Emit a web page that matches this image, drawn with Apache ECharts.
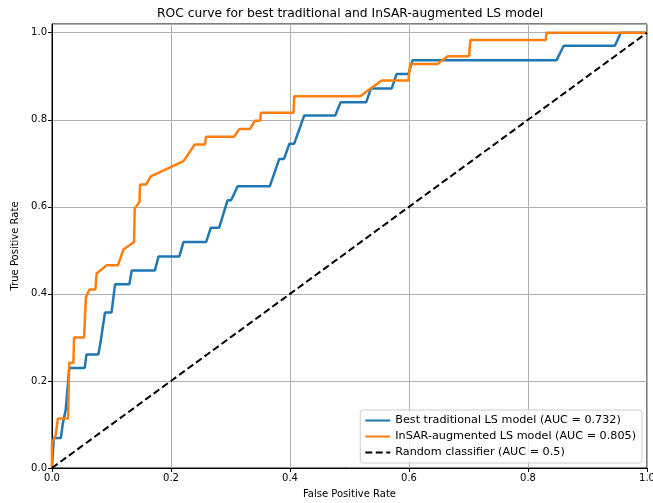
<!DOCTYPE html>
<html>
<head>
<meta charset="utf-8">
<script src="https://cdn.jsdelivr.net/npm/echarts@6/dist/echarts.min.js"></script>
<style>
  html, body { margin: 0; padding: 0; background: #fff; }
  #main { width: 653px; height: 503px; }
</style>
</head>
<body>
<div id="main"></div>
<script>
// ROC points (false positive rate, true positive rate)
var tradFpr = [0, 0.003, 0.015, 0.018, 0.021, 0.023, 0.026, 0.029, 0.055, 0.058, 0.078, 0.082, 0.084, 0.089, 0.100, 0.106, 0.130, 0.134, 0.173, 0.179, 0.214, 0.221, 0.259, 0.267, 0.281, 0.295, 0.301, 0.312, 0.366, 0.382, 0.390, 0.399, 0.407, 0.424, 0.476, 0.485, 0.528, 0.536, 0.571, 0.579, 0.599, 0.606, 0.848, 0.860, 0.946, 0.956, 1];
var tradTpr = [0, 0.069, 0.069, 0.101, 0.101, 0.133, 0.133, 0.230, 0.230, 0.261, 0.261, 0.293, 0.293, 0.357, 0.357, 0.422, 0.422, 0.454, 0.454, 0.486, 0.486, 0.519, 0.519, 0.552, 0.552, 0.615, 0.615, 0.647, 0.647, 0.710, 0.710, 0.745, 0.745, 0.810, 0.810, 0.840, 0.840, 0.872, 0.872, 0.905, 0.905, 0.937, 0.937, 0.970, 0.970, 1.0, 1.0];

var insarFpr = [0, 0, 0.006, 0.010, 0.027, 0.029, 0.036, 0.037, 0.054, 0.057, 0.063, 0.073, 0.075, 0.092, 0.111, 0.120, 0.138, 0.139, 0.147, 0.148, 0.158, 0.166, 0.221, 0.240, 0.257, 0.259, 0.306, 0.315, 0.333, 0.341, 0.350, 0.351, 0.406, 0.407, 0.518, 0.554, 0.599, 0.602, 0.648, 0.665, 0.701, 0.703, 0.830, 0.831, 1];
var insarTpr = [0, 0.057, 0.075, 0.114, 0.114, 0.242, 0.242, 0.300, 0.300, 0.392, 0.410, 0.410, 0.447, 0.466, 0.466, 0.502, 0.519, 0.596, 0.611, 0.651, 0.651, 0.670, 0.705, 0.743, 0.743, 0.761, 0.761, 0.779, 0.779, 0.798, 0.798, 0.816, 0.816, 0.854, 0.854, 0.890, 0.890, 0.928, 0.928, 0.946, 0.946, 0.983, 0.983, 1.0, 1.0];

var randFpr = [0, 1];
var randTpr = [0, 1];

var seriesNames = [
    'Best traditional LS model (AUC = 0.732)',
    'InSAR-augmented LS model (AUC = 0.805)',
    'Random classifier (AUC = 0.5)'
];

function zip(xs, ys) {
    return xs.map(function (x, i) { return [x, ys[i]]; });
}

var font = 'DejaVu Sans';

var myChart = echarts.init(document.getElementById('main'));

var option = {
    animation: false,
    backgroundColor: '#fff',
    title: {
        // centred over the plot area, not the canvas
        text: 'ROC curve for best traditional and InSAR-augmented LS model',
        left: 152,
        top: 3,
        textStyle: { fontFamily: font, fontSize: 12.3, fontWeight: 'normal', color: '#000' }
    },
    grid: {
        left: 52, right: 6, top: 24, bottom: 35,
        outerBoundsMode: 'none',
        containLabel: false,
        show: true, borderColor: '#000', borderWidth: 1
    },
    legend: {
        orient: 'vertical',
        right: 11,
        bottom: 40,
        itemWidth: 25,
        itemHeight: 10,
        itemGap: 5,
        padding: [5, 6, 5, 4],
        borderColor: '#ccc',
        borderWidth: 1,
        borderRadius: 3,
        backgroundColor: 'rgba(255,255,255,0.8)',
        itemStyle: { opacity: 0 },
        textStyle: { fontFamily: font, fontSize: 11.2, color: '#000' },
        data: seriesNames
    },
    xAxis: {
        type: 'value',
        min: 0, max: 1, interval: 0.2,
        name: 'False Positive Rate',
        nameLocation: 'middle',
        nameGap: 21,
        nameTextStyle: { fontFamily: font, fontSize: 10, color: '#000' },
        axisLine: { lineStyle: { color: '#000', width: 1 } },
        axisTick: { show: true, length: 4, lineStyle: { color: '#000' } },
        axisLabel: {
            fontFamily: font, fontSize: 10, color: '#000', margin: 5,
            formatter: function (v) { return v.toFixed(1); }
        },
        splitLine: { show: true, lineStyle: { color: '#b0b0b0', width: 1 } }
    },
    yAxis: {
        type: 'value',
        min: 0, max: 1.02, interval: 0.2,
        name: 'True Positive Rate',
        nameLocation: 'middle',
        nameGap: 25,
        nameTextStyle: { fontFamily: font, fontSize: 10, color: '#000' },
        axisLine: { show: true, lineStyle: { color: '#000', width: 1 } },
        axisTick: { show: true, length: 4, lineStyle: { color: '#000' } },
        axisLabel: {
            fontFamily: font, fontSize: 10, color: '#000', margin: 5,
            showMaxLabel: false,
            formatter: function (v) { return v > 1.001 ? '' : v.toFixed(1); }
        },
        splitLine: { show: true, lineStyle: { color: '#b0b0b0', width: 1 } }
    },
    series: [
        {
            name: seriesNames[0],
            type: 'line',
            symbol: 'none',
            data: zip(tradFpr, tradTpr),
            lineStyle: { color: '#1f77b4', width: 2.5 },
            itemStyle: { color: '#1f77b4' },
            z: 3
        },
        {
            name: seriesNames[1],
            type: 'line',
            symbol: 'none',
            data: zip(insarFpr, insarTpr),
            lineStyle: { color: '#ff7f0e', width: 2.5 },
            itemStyle: { color: '#ff7f0e' },
            z: 4
        },
        {
            name: seriesNames[2],
            type: 'line',
            symbol: 'none',
            data: zip(randFpr, randTpr),
            lineStyle: { color: '#000', width: 2, type: [7, 3.5] },
            itemStyle: { color: '#000' },
            z: 5
        }
    ]
};

myChart.setOption(option);
</script>
</body>
</html>
